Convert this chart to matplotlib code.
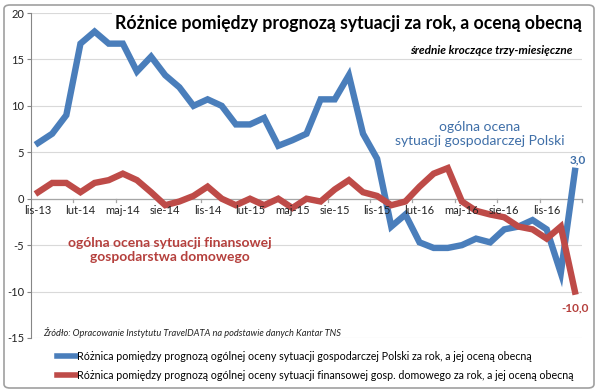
import matplotlib
matplotlib.use("Agg")
import matplotlib.pyplot as plt
from matplotlib.lines import Line2D
from matplotlib.patches import FancyBboxPatch

# Dane: średnie kroczące trzy-miesięczne, lis-13 .. sty-17
months = ["lis-13", "gru-13", "sty-14", "lut-14", "mar-14", "kwi-14", "maj-14",
          "cze-14", "lip-14", "sie-14", "wrz-14", "paź-14", "lis-14", "gru-14",
          "sty-15", "lut-15", "mar-15", "kwi-15", "maj-15", "cze-15", "lip-15",
          "sie-15", "wrz-15", "paź-15", "lis-15", "gru-15", "sty-16", "lut-16",
          "mar-16", "kwi-16", "maj-16", "cze-16", "lip-16", "sie-16", "wrz-16",
          "paź-16", "lis-16", "gru-16", "sty-17"]

polska = [6.0, 7.0, 9.0, 16.7, 18.0, 16.7, 16.7, 13.7, 15.3, 13.3, 12.0, 10.0,
          10.7, 10.0, 8.0, 8.0, 8.7, 5.7, 6.3, 7.0, 10.7, 10.7, 13.3, 7.0, 4.3,
          -3.0, -1.7, -4.7, -5.3, -5.3, -5.0, -4.3, -4.7, -3.3, -3.0, -2.3,
          -3.3, -8.0, 3.0]

gosp_dom = [0.7, 1.7, 1.7, 0.7, 1.7, 2.0, 2.7, 2.0, 0.7, -0.7, -0.3, 0.3, 1.3,
            0.0, -0.7, 0.0, -0.7, 0.0, -1.0, 0.0, -0.3, 1.0, 2.0, 0.7, 0.3,
            -0.7, -0.3, 1.3, 2.7, 3.3, -0.3, -1.3, -1.7, -2.0, -3.0, -3.3,
            -4.3, -3.0, -10.0]

y_ticks = [20, 15, 10, 5, 0, -5, -10, -15]

label_polska = "Różnica pomiędzy prognozą ogólnej oceny sytuacji gospodarczej Polski za rok, a jej oceną obecną"
label_dom = "Różnica pomiędzy prognozą ogólnej oceny sytuacji finansowej gosp. domowego za rok, a jej oceną obecną"

BLUE = "#4a7ebb"
RED = "#be4b48"
plt.rcParams['font.family'] = ['Lato', 'DejaVu Sans']

fig = plt.figure(figsize=(6.0, 3.92), dpi=100)
ax = fig.add_axes([31 / 600, 1 - 338 / 392, 551 / 600, 325 / 392])

x = list(range(len(months)))
ax.plot(x, polska, color=BLUE, lw=4.6, solid_joinstyle='miter', zorder=3)
ax.plot(x, gosp_dom, color=RED, lw=4.6, solid_joinstyle='miter', zorder=3)

ax.set_xlim(-0.5, len(months) - 0.5)
ax.set_ylim(-15, 20)
ax.set_yticks(y_ticks)
ax.set_yticklabels([str(v) for v in y_ticks], fontsize=8, color="#222222")
ax.yaxis.grid(True, color="#d9d9d9", lw=0.8)
ax.set_axisbelow(True)
ax.tick_params(axis='y', length=3, color="#868686", pad=2)

# os X na poziomie zera
ax.set_xticks([])
ax.axhline(0, color="#a6a6a6", lw=0.9, zorder=2)
for k in range(0, len(months), 3):
    b = k + 2.5
    ax.plot([b, b], [0, -0.35], color="#a6a6a6", lw=0.9, zorder=2, clip_on=False)
    ax.text(k, -0.7, months[k], ha='center', va='top', fontsize=8, color="#222222")

for side in ['top', 'right', 'bottom']:
    ax.spines[side].set_visible(False)
ax.spines['left'].set_color("#868686")

# opisy
fig.text(348 / 600, 1 - 24 / 392,
         "Różnice pomiędzy prognozą sytuacji za rok, a oceną obecną",
         ha='center', va='center', fontsize=12.7, fontweight='bold',
         bbox=dict(facecolor='white', edgecolor='none', pad=2))
fig.text(573 / 600, 1 - 51 / 392, "średnie kroczące trzy-miesięczne",
         ha='right', va='center', fontsize=8.5, fontweight='bold', style='italic',
         bbox=dict(facecolor='white', edgecolor='none', pad=1))
fig.text(480 / 600, 1 - 134 / 392, "ogólna ocena\nsytuacji gospodarczej Polski",
         ha='center', va='center', fontsize=10, color="#3f6fa8", linespacing=1.25)
fig.text(170 / 600, 1 - 250 / 392, "ogólna ocena sytuacji finansowej\ngospodarstwa domowego",
         ha='center', va='center', fontsize=10, fontweight='bold', color="#b5403d",
         linespacing=1.25)
ax.annotate("3,0", (len(months) - 1, polska[-1]), xytext=(2, 4),
            textcoords='offset points', ha='center', va='bottom',
            fontsize=8.5, fontweight='bold', color="#3f6fa8")
ax.annotate("-10,0", (len(months) - 1, gosp_dom[-1]), xytext=(0, -8),
            textcoords='offset points', ha='center', va='top',
            fontsize=8.5, fontweight='bold', color="#b5403d")
fig.text(43 / 600, 1 - 333 / 392,
         "Źródło: Opracowanie Instytutu TravelDATA na podstawie danych Kantar TNS",
         ha='left', va='center', fontsize=6.7, style='italic', color="#222222")

# legenda
handles = [Line2D([], [], color=BLUE, lw=4), Line2D([], [], color=RED, lw=4)]
fig.legend(handles, [label_polska, label_dom], loc='upper left',
           bbox_to_anchor=(47 / 600, 1 - 341 / 392), frameon=False, fontsize=7.7,
           handlelength=1.8, handletextpad=0.1, labelspacing=0.75)

# ramka
fig.patches.append(FancyBboxPatch((4 / 600, 4 / 392), 590 / 600, 383 / 392,
                                  boxstyle="round,pad=0,rounding_size=0.01",
                                  transform=fig.transFigure, fill=False,
                                  edgecolor="#a0a0a0", lw=1.2))

fig.savefig("out.png", dpi=100)
